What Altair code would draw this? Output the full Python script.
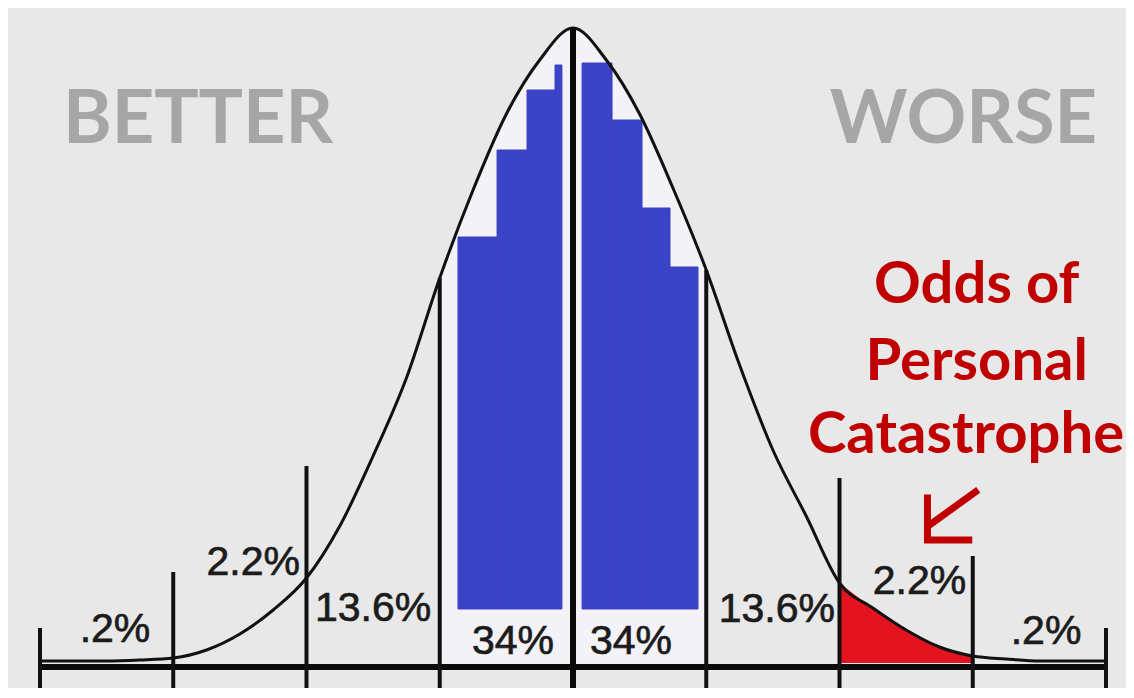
import altair as alt
import pandas as pd

# ---- data (x in standard deviations, y in height units above baseline) ----
curve_s = [-4.0, -3.75, -3.5, -3.25, -3.0, -2.75, -2.5, -2.25, -2.0, -1.75, -1.5, -1.25, -1.0,
           -0.75, -0.5, -0.25, 0.0, 0.25, 0.5, 0.75, 1.0, 1.25, 1.5, 1.75, 2.0, 2.25, 2.5, 2.75,
           3.0, 3.25, 3.5, 3.75, 4.0]
curve_h = [6, 6, 6, 7, 9, 17, 33, 57, 89, 141, 211, 289, 389,
           477, 553, 607, 639, 607, 553, 479, 397, 302, 217, 151, 84, 59, 37, 20,
           11, 8, 6, 6, 6]

boundary_s = [-4, -3, -2, -1, 1, 2, 3, 4]
boundary_top = [39, 95, 201, 389, 397, 189, 111, 39]
center_top = [639]

block_start = [-0.863, -0.570, -0.345, -0.135, 0.068, 0.293, 0.518, 0.728]
block_end = [-0.570, -0.345, -0.135, -0.083, 0.293, 0.518, 0.728, 0.938]
block_top = [430, 517, 577, 602, 604, 547, 459, 400]
block_base = 58

pct_labels = [".2%", "2.2%", "13.6%", "34%", "34%", "13.6%", "2.2%", ".2%"]
pct_s = [-3.437, -2.40, -1.50, -0.45, 0.435, 1.53, 2.60, 3.55]
pct_h = [37, 104, 58, 25, 25, 57, 85, 35]

side_words = ["BETTER", "WORSE"]
side_s = [-2.814, 2.93]
side_h = [524, 524]

note_lines = ["Odds of", "Personal", "Catastrophe"]
note_s = [3.03, 3.03, 2.95]
note_h = [364, 287, 214]

arrow_part = ["shaft", "shaft", "head", "head", "head"]
arrow_s = [3.02, 2.675, 2.66, 2.66, 2.97]
arrow_h = [175, 142, 169, 127, 127]

red_from, red_to = 2.0, 3.0
red_base = 4
light_from, light_to = -1.0, 1.0

X_DOMAIN = [-4.240, 4.150]
Y_DOMAIN = [-21, 659]

xs = alt.Scale(domain=X_DOMAIN, nice=False, zero=False)
ys = alt.Scale(domain=Y_DOMAIN, nice=False, zero=False)

curve = pd.DataFrame({"s": curve_s, "h": curve_h})
curve["zero"] = 0
curve["red_base"] = red_base
bounds = pd.DataFrame({"s": boundary_s, "top": boundary_top})
bounds["bottom"] = Y_DOMAIN[0]
center = pd.DataFrame({"s": [0], "top": center_top})
center["bottom"] = Y_DOMAIN[0]
blocks = pd.DataFrame({"s": block_start, "s2": block_end, "top": block_top})
blocks["base"] = block_base
pcts = pd.DataFrame({"s": pct_s, "h": pct_h, "t": pct_labels})
sides = pd.DataFrame({"s": side_s, "h": side_h, "t": side_words})
notes = pd.DataFrame({"s": note_s, "h": note_h, "t": note_lines})
arrow = pd.DataFrame({"part": arrow_part, "s": arrow_s, "h": arrow_h, "k": list(range(len(arrow_s)))})
baseline = pd.DataFrame({"s": [min(boundary_s)], "s2": [max(boundary_s)], "h": [0]})

X = alt.X("s:Q", scale=xs, axis=None)
Y = alt.Y("h:Q", scale=ys, axis=None)

light = alt.Chart(curve).transform_filter(
    (alt.datum.s >= light_from) & (alt.datum.s <= light_to)
).mark_area(interpolate="monotone", color="#f2f2f7").encode(x=X, y=Y, y2="zero:Q")

bars = alt.Chart(blocks).mark_rect(color="#3b43c6", stroke="#3b43c6", strokeWidth=1).encode(
    x=X, x2="s2:Q", y=alt.Y("top:Q", scale=ys, axis=None), y2="base:Q")

red = alt.Chart(curve).transform_filter(
    (alt.datum.s >= red_from) & (alt.datum.s <= red_to)
).mark_area(interpolate="monotone", color="#e3131f").encode(x=X, y=Y, y2="red_base:Q")

base = alt.Chart(baseline).mark_rule(color="#0a0a0a", strokeWidth=6).encode(
    x=X, x2="s2:Q", y=Y)

vlines = alt.Chart(bounds).mark_rule(color="#111111", strokeWidth=4).encode(
    x=X, y=alt.Y("top:Q", scale=ys, axis=None), y2="bottom:Q")

cline = alt.Chart(center).mark_rule(color="#0a0a0a", strokeWidth=6).encode(
    x=X, y=alt.Y("top:Q", scale=ys, axis=None), y2="bottom:Q")

line = alt.Chart(curve).mark_line(interpolate="monotone", color="#111111", strokeWidth=3).encode(x=X, y=Y)

labels = alt.Chart(pcts).mark_text(font="Liberation Sans", fontSize=41, color="#1c1c1c",
                                   stroke="#1c1c1c", strokeWidth=0.7,
                                   align="center", baseline="middle").encode(x=X, y=Y, text="t:N")

side_text = alt.Chart(sides).mark_text(font="Lato", fontWeight="bold", fontSize=74, color="#a6a6a6",
                                       align="center", baseline="alphabetic").encode(x=X, y=Y, text="t:N")

note_text = alt.Chart(notes).mark_text(font="Lato", fontWeight="bold", fontSize=58, color="#c00000",
                                       align="center", baseline="alphabetic").encode(x=X, y=Y, text="t:N")

arrow_mark = alt.Chart(arrow).mark_line(color="#c00000", strokeWidth=7, strokeCap="square",
                                        strokeJoin="miter").encode(
    x=X, y=Y, detail="part:N", order="k:Q")

chart = alt.layer(light, bars, red, base, vlines, cline, line, labels, side_text, note_text, arrow_mark
).properties(width=1118, height=680, background="#e8e8e8", padding=0,
             autosize=alt.AutoSizeParams(type="none")
).configure_view(stroke=None)

chart.save("out.html", embed_options={"renderer": "svg", "actions": False})
